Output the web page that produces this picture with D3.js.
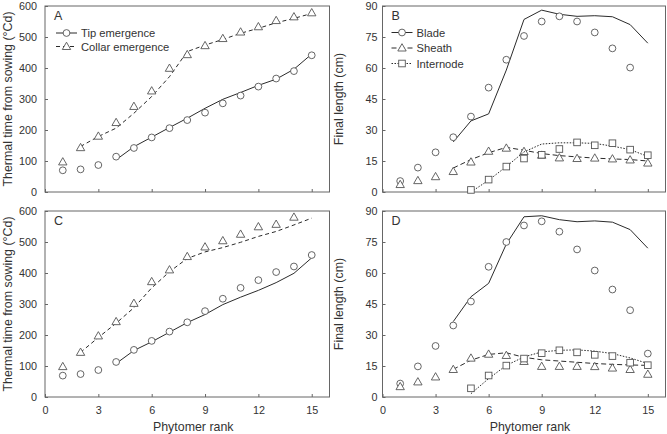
<!DOCTYPE html>
<html><head><meta charset="utf-8">
<script src="https://cdn.jsdelivr.net/npm/d3@7"></script>
<style>body{margin:0;background:#fff}svg{display:block}text{font-family:"Liberation Sans",Arial,sans-serif;fill:#333}</style>
</head><body><svg id="c" width="667" height="434"></svg>
<script>
// ---------- DATA ----------
const xTicks = [0, 3, 6, 9, 12, 15];
const ttTicks = [0, 100, 200, 300, 400, 500, 600];
const lenTicks = [0, 15, 30, 45, 60, 75, 90];

// Panel A
const tipObsA = [70, 73, 87, 114, 142, 176, 206, 232, 256, 286, 311, 340, 366, 390, 441]; // ranks 1-15
const tipSimA = [104, 146, 177, 208, 238, 270, 299, 321, 344, 364, 396, 445]; // ranks 4-15
const collarObsA = [97, 143, 180, 224, 276, 326, 399, 443, 472, 495, 516, 533, 553, 565, 578]; // 1-15
const collarSimA = [147, 179, 206, 254, 308, 372, 453, 474, 492, 512, 528, 546, 560, 576]; // 2-15
// Panel C
const tipObsC = [69, 74, 87, 113, 152, 181, 211, 241, 277, 317, 352, 377, 403, 421, 458];
const tipSimC = [108, 150, 178, 209, 240, 266, 298, 322, 344, 369, 399, 449];
const collarObsC = [98, 144, 197, 243, 302, 372, 410, 453, 484, 504, 525, 549, 557, 580]; // 1-14
const collarSimC = [144, 192, 238, 288, 352, 404, 447, 468, 482, 499, 518, 534, 555, 577];
// Panel B
const bladeObsB = [5.3, 11.8, 19.2, 26.5, 36.5, 50.5, 64, 75.5, 82.5, 85, 82.5, 77.2, 69.5, 60.2]; // 1-14
const bladeSimB = [24.2, 34.4, 37.8, 59, 83.5, 88, 86, 85, 85.3, 84.8, 81, 72]; // 4-15
const sheathObsB = [3.6, 5.5, 7.4, 9.9, 14.5, 19.7, 21.2, 19.6, 17.8, 16.5, 16.2, 16.4, 16, 15.5, 14]; // 1-15
const sheathSimB = [11.6, 15.7, 19, 21.6, 20.2, 18.6, 17.6, 17, 16.4, 16, 15.7, 15]; // 4-15
const internodeObsB = [1, 6, 12.3, 16.2, 18, 20.8, 24, 22.6, 23.6, 20.5, 17.8]; // 5-15
const internodeSimB = [0, 5.7, 12.3, 19.4, 23.2, 23.8, 23.8, 23.5, 22.2, 20.5, 17.2]; // 5-15
// Panel D
const bladeObsD = [6.5, 14.8, 24.7, 34.6, 46.2, 63, 75, 83, 85, 80, 71.4, 61.2, 52, 42, 21]; // 1-15
const bladeSimD = [36.5, 48.5, 55, 74, 87.2, 87.7, 85.8, 84.8, 85.2, 84.6, 81, 72]; // 4-15
const sheathObsD = [5, 7.3, 9.7, 13.3, 18.8, 20.7, 20.1, 17.2, 14.8, 14.8, 14.8, 14.7, 14, 13.3, 11]; // 1-15
const sheathSimD = [13.4, 17.8, 20.6, 21.4, 19.2, 18, 17.4, 16.8, 16.2, 15.8, 15.5, 15.3]; // 4-15
const internodeObsD = [4.2, 10.4, 15.2, 18.6, 21.2, 22.6, 21.6, 20.4, 19.8, 16.6, 15.4]; // 5-15
const internodeSimD = [1.6, 8.9, 15.3, 19.4, 21.8, 22.6, 22.8, 22.2, 21, 18.9, 16.2]; // 5-15

// ---------- DRAW ----------
const svg = d3.select("#c");
const LINE = "#2b2b2b", MARK = "#555", FRAME = "#666";
const FONT = "Liberation Sans, Arial, sans-serif";

function panel(o) {
  const g = svg.append("g");
  const x = d3.scaleLinear().domain([0, 16]).range([o.x0, o.x1]);
  const y = d3.scaleLinear().domain(o.ydom).range([o.y1, o.y0]);
  g.append("rect").attr("x", o.x0).attr("y", o.y0).attr("width", o.x1 - o.x0).attr("height", o.y1 - o.y0)
    .attr("fill", "none").attr("stroke", FRAME).attr("stroke-width", 1);
  const ya = g.append("g").attr("transform", `translate(${o.x0},0)`)
    .call(d3.axisLeft(y).tickValues(o.yticks).tickSizeInner(-3).tickSizeOuter(0).tickPadding(o.ypad));
  ya.select(".domain").remove();
  ya.selectAll("line").attr("stroke", FRAME);
  ya.selectAll("text").attr("font-size", 10.8).attr("fill", "#333").attr("font-family", FONT);
  const xa = g.append("g").attr("transform", `translate(0,${o.y1})`)
    .call(d3.axisBottom(x).tickValues(xTicks).tickSizeInner(-3).tickSizeOuter(0).tickPadding(o.showX ? 9.5 : 0));
  xa.select(".domain").remove();
  xa.selectAll("line").attr("stroke", FRAME);
  if (o.showX) xa.selectAll("text").attr("font-size", 10.8).attr("fill", "#333").attr("font-family", FONT);
  else xa.selectAll("text").remove();

  o.series.forEach(s => {
    const line = d3.line().x(d => x(d[0])).y(d => y(d[1])).curve(d3.curveLinear);
    const simPts = s.sim.map((v, i) => [s.simStart + i, v]);
    g.append("path").attr("d", line(simPts)).attr("fill", "none").attr("stroke", LINE)
      .attr("stroke-width", 1).attr("stroke-dasharray", s.dash);
    s.obs.forEach((v, i) => marker(g, s.shape, x(s.obsStart + i), y(v)));
  });
  g.append("text").attr("x", o.x0 + 9).attr("y", o.y0 + 14).attr("font-size", 12.5).text(o.letter);
  if (o.legend) {
    o.series.forEach((s, i) => {
      const ly = o.y0 + o.legY + i * o.legDy;
      const lx = o.x0 + o.legX;
      g.append("line").attr("x1", lx).attr("x2", lx + 21).attr("y1", ly).attr("y2", ly)
        .attr("stroke", LINE).attr("stroke-width", 1).attr("stroke-dasharray", s.dash);
      marker(g, s.shape, lx + 10.5, ly);
      g.append("text").attr("x", lx + 25).attr("y", ly + 4).attr("font-size", 11.2).text(s.name);
    });
  }
  g.append("text").attr("transform", `translate(${o.ytx},${(o.y0 + o.y1) / 2}) rotate(-90)`)
    .attr("text-anchor", "middle").attr("font-size", 12.4).text(o.ytitle);
  if (o.showX) g.append("text").attr("x", (o.x0 + o.x1) / 2 + 6).attr("y", o.y1 + 34)
    .attr("text-anchor", "middle").attr("font-size", 12.4).text("Phytomer rank");
}

function marker(g, shape, cx, cy) {
  const st = { fill: "#fff", stroke: MARK, "stroke-width": 0.9 };
  let el;
  if (shape === "circle") el = g.append("circle").attr("cx", cx).attr("cy", cy).attr("r", 3.4);
  else if (shape === "triangle") el = g.append("path").attr("d", `M${cx},${cy - 4.3}L${cx + 4.2},${cy + 3}L${cx - 4.2},${cy + 3}Z`);
  else el = g.append("rect").attr("x", cx - 3.3).attr("y", cy - 3.3).attr("width", 6.6).attr("height", 6.6);
  Object.entries(st).forEach(([k, v]) => el.attr(k, v));
}

const TT = "Thermal time from sowing (\u00B0Cd)", FL = "Final length (cm)";
const ttSeries = (tObs, tSim, cObs, cSim) => [
  { name: "Tip emergence", shape: "circle", dash: null, obs: tObs, obsStart: 1, sim: tSim, simStart: 4 },
  { name: "Collar emergence", shape: "triangle", dash: "4,3", obs: cObs, obsStart: 1, sim: cSim, simStart: 2 }
];
const flSeries = (bObs, bSim, sObs, sSim, iObs, iSim) => [
  { name: "Blade", shape: "circle", dash: null, obs: bObs, obsStart: 1, sim: bSim, simStart: 4 },
  { name: "Sheath", shape: "triangle", dash: "5,3", obs: sObs, obsStart: 1, sim: sSim, simStart: 4 },
  { name: "Internode", shape: "square", dash: "1.5,1.5", obs: iObs, obsStart: 5, sim: iSim, simStart: 5 }
];

panel({ letter: "A", x0: 45, x1: 329.5, y0: 6, y1: 192, ydom: [0, 600], yticks: ttTicks, ypad: 8, ytx: 11.5, ytitle: TT,
  showX: false, legend: true, legX: 11, legY: 27, legDy: 13.5, series: ttSeries(tipObsA, tipSimA, collarObsA, collarSimA) });
panel({ letter: "C", x0: 45, x1: 329.5, y0: 211, y1: 397, ydom: [0, 600], yticks: ttTicks, ypad: 8, ytx: 11.5, ytitle: TT,
  showX: true, legend: false, series: ttSeries(tipObsC, tipSimC, collarObsC, collarSimC) });
panel({ letter: "B", x0: 382.5, x1: 665.5, y0: 6, y1: 192, ydom: [0, 90], yticks: lenTicks, ypad: 5, ytx: 343, ytitle: FL,
  showX: false, legend: true, legX: 9, legY: 26.5, legDy: 15.5, series: flSeries(bladeObsB, bladeSimB, sheathObsB, sheathSimB, internodeObsB, internodeSimB) });
panel({ letter: "D", x0: 382.5, x1: 665.5, y0: 211, y1: 397, ydom: [0, 90], yticks: lenTicks, ypad: 5, ytx: 343, ytitle: FL,
  showX: true, legend: false, series: flSeries(bladeObsD, bladeSimD, sheathObsD, sheathSimD, internodeObsD, internodeSimD) });
</script></body></html>
